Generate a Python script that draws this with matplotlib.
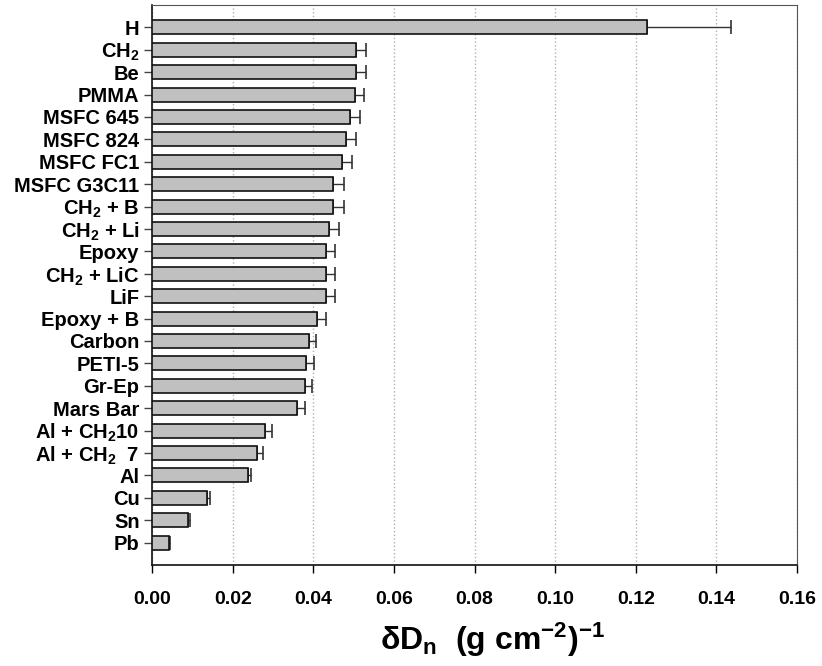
import numpy as np
import matplotlib.pyplot as plt

plt.rcParams['font.family'] = 'Liberation Sans'
plt.rcParams['font.weight'] = 'bold'
plt.rcParams['mathtext.fontset'] = 'custom'
plt.rcParams['mathtext.rm'] = 'Liberation Sans:bold'
plt.rcParams['mathtext.bf'] = 'Liberation Sans:bold'
plt.rcParams['mathtext.it'] = 'Liberation Sans:bold'
plt.rcParams['mathtext.default'] = 'rm'

# top to bottom as in the figure
materials = ['H', 'CH$_2$', 'Be', 'PMMA', 'MSFC 645', 'MSFC 824', 'MSFC FC1',
             'MSFC G3C11', 'CH$_2$ + B', 'CH$_2$ + Li', 'Epoxy', 'CH$_2$ + LiC',
             'LiF', 'Epoxy + B', 'Carbon', 'PETI-5', 'Gr-Ep', 'Mars Bar',
             'Al + CH$_2$10', 'Al + CH$_2$  7', 'Al', 'Cu', 'Sn', 'Pb']
delta_dn = [0.1228, 0.0506, 0.0506, 0.0504, 0.0492, 0.0482, 0.0471,
            0.0450, 0.0450, 0.0440, 0.0432, 0.0432,
            0.0432, 0.0410, 0.0389, 0.0383, 0.0379, 0.0360,
            0.0280, 0.0260, 0.0238, 0.0136, 0.0090, 0.0042]
err = [0.0208, 0.0024, 0.0024, 0.0023, 0.0023, 0.0025, 0.0026,
       0.0026, 0.0026, 0.0024, 0.0021, 0.0021,
       0.0021, 0.0022, 0.0017, 0.0018, 0.0018, 0.0019,
       0.0018, 0.0015, 0.0007, 0.0007, 0.0005, 0.0002]


def main():
    fig = plt.figure(figsize=(8.22, 6.66), dpi=100)
    ax = fig.add_axes([0.185, 0.1517, 0.7846, 0.8408])

    n = len(materials)
    y = np.arange(n)[::-1]
    vals = np.array(delta_dn)
    e = np.array(err)

    ax.errorbar(vals, y, xerr=[np.zeros(n), e], fmt='none', ecolor='#333333',
                elinewidth=1, capsize=5, capthick=1.2, zorder=2)
    ax.barh(y, vals, height=0.62, color='#c0c0c0', edgecolor='#111111',
            linewidth=1.2, zorder=3)

    ax.set_xlim(0, 0.16)
    ax.set_ylim(-1, 24)
    ax.set_xticks(np.arange(0, 0.161, 0.02))
    ax.set_xticklabels(['%.2f' % t for t in np.arange(0, 0.161, 0.02)])
    ax.set_yticks(y)
    ax.set_yticklabels(materials)

    ax.xaxis.grid(True, linestyle=':', color='#b0b0b0', linewidth=1)
    ax.set_axisbelow(True)

    ax.tick_params(axis='y', direction='out', length=6, width=1,
                   color='#444444', labelsize=14.5, pad=3)
    ax.tick_params(axis='x', direction='out', length=6, width=1,
                   labelsize=14, pad=13)
    for s in ['top', 'right']:
        ax.spines[s].set_color('#555555')
    for s in ['left', 'bottom']:
        ax.spines[s].set_color('#111111')
        ax.spines[s].set_linewidth(1.2)

    ax.set_xlabel(r'$\delta$D$_\mathrm{n}$  (g cm$^{-2}$)$^{-1}$',
                  fontsize=23, fontweight='bold')
    ax.xaxis.set_label_coords(0.528, -0.10)

    fig.savefig('out.png', dpi=100)


if __name__ == '__main__':
    main()
